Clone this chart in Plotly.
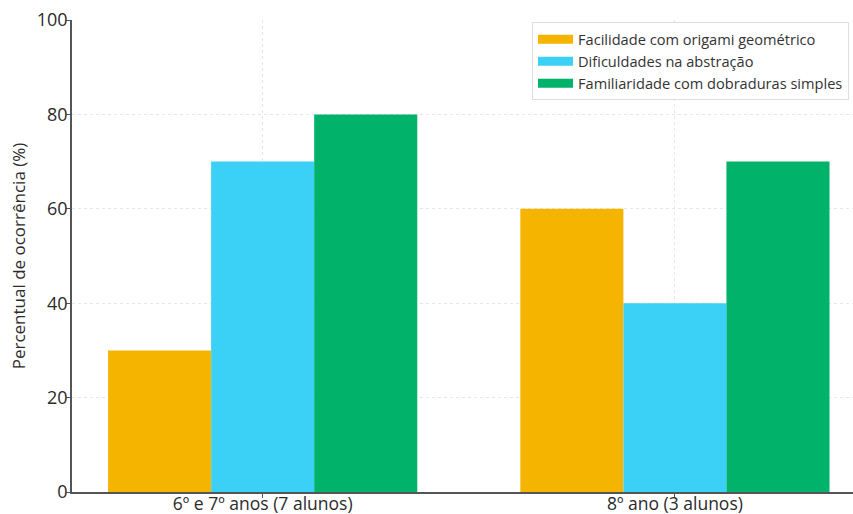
import plotly.graph_objects as go

# Categories and series values (percent)
categories = ["6º e 7º anos (7 alunos)", "8º ano (3 alunos)"]
series_names = [
    "Facilidade com origami geométrico",
    "Dificuldades na abstração",
    "Familiaridade com dobraduras simples",
]
facilidade = [30, 60]
dificuldades = [70, 40]
familiaridade = [80, 70]
series_values = [facilidade, dificuldades, familiaridade]
colors = ["#F4B400", "#3BD0F5", "#00B26A"]

y_ticks = [0, 20, 40, 60, 80, 100]

fig = go.Figure()
for name, vals, col in zip(series_names, series_values, colors):
    fig.add_trace(go.Bar(
        x=[0, 1], y=vals, name=name, showlegend=False,
        marker=dict(color=col, line=dict(width=0)),
    ))
# Legend entries with wide rectangular swatches
for name, col in zip(series_names, colors):
    fig.add_trace(go.Scatter(
        x=[None], y=[None], mode="lines", name=name,
        line=dict(color=col, width=9),
    ))

font_family = "Open Sans"
fig.update_layout(
    width=853, height=514,
    margin=dict(l=72, r=0, t=20, b=22),
    paper_bgcolor="white", plot_bgcolor="white",
    barmode="group", bargap=0.25, bargroupgap=0,
    font=dict(family=font_family, size=14, color="#2b2b2b"),
    showlegend=True,
    legend=dict(
        x=0.589, y=0.995, xanchor="left", yanchor="top",
        bgcolor="rgba(255,255,255,0.9)", bordercolor="#dddddd", borderwidth=1,
        font=dict(family=font_family, size=14.6, color="#333333"),
        traceorder="normal", itemwidth=35,
    ),
    xaxis=dict(
        tickmode="array", tickvals=[0, 1], ticktext=categories,
        range=[-0.4625, 1.432],
        showline=True, linecolor="#555555", linewidth=1.5,
        ticks="outside", ticklen=4, tickcolor="#555555",
        showgrid=True, gridcolor="#e6e6e6", griddash="dot", gridwidth=1,
        zeroline=False, automargin=False,
        tickfont=dict(size=17.5), ticklabelstandoff=-9,
    ),
    yaxis=dict(
        range=[0, 100], tickvals=y_ticks,
        showline=True, linecolor="#555555", linewidth=1.5,
        ticks="outside", ticklen=4, tickcolor="#555555",
        showgrid=True, gridcolor="#e6e6e6", griddash="dot", gridwidth=1,
        zeroline=False, automargin=False,
        tickfont=dict(size=18), ticklabelstandoff=-5,
        title=dict(text="Percentual de ocorrência (%)", font=dict(size=17), standoff=7),
    ),
)

fig.write_html("out.html")
